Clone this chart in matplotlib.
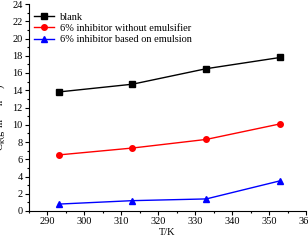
import matplotlib.pyplot as plt
from matplotlib.ticker import MultipleLocator

plt.rcParams['font.family'] = ['Liberation Serif', 'DejaVu Serif']

temp = [293, 313, 333, 353]
blank = [13.8, 14.7, 16.5, 17.8]
no_emulsifier = [6.5, 7.3, 8.3, 10.1]
emulsion = [0.8, 1.2, 1.4, 3.5]

fig = plt.figure(figsize=(3.08, 2.40), dpi=100)
ax = fig.add_axes([29 / 308, 1 - 211 / 240, 277 / 308, 207 / 240])

ax.plot(temp, blank, color='black', marker='s', markersize=4, linewidth=1, label='blank')
ax.plot(temp, no_emulsifier, color='red', marker='o', markersize=4, linewidth=1,
        label='6% inhibitor without emulsifier')
ax.plot(temp, emulsion, color='blue', marker='^', markersize=4, linewidth=1,
        label='6% inhibitor based on emulsion')

ax.set_xlim(285, 360)
ax.set_ylim(0, 24)
ax.xaxis.set_major_locator(MultipleLocator(10))
ax.xaxis.set_minor_locator(MultipleLocator(5))
ax.yaxis.set_major_locator(MultipleLocator(2))
ax.yaxis.set_minor_locator(MultipleLocator(1))
ax.tick_params(which='major', length=3, width=0.8, labelsize=7.5, pad=1.5)
ax.tick_params(which='minor', length=1.5, width=0.8)
ax.spines['top'].set_visible(False)
ax.spines['right'].set_visible(False)

ax.set_xlabel('T/K', fontsize=7.5, labelpad=1)
ax.set_ylabel(r'C$_{\rm k}$(g$\cdot$m$^{-2}$$\cdot$h$^{-1}$)', fontsize=7.5, labelpad=1)
ax.yaxis.set_label_coords(-0.075, 0.45)

ax.legend(loc='upper left', bbox_to_anchor=(-0.01, 0.995), frameon=False, fontsize=7.5,
          handlelength=2.0, handletextpad=0.5, labelspacing=0.2, borderaxespad=0.3)

fig.savefig('out.png', dpi=100)
